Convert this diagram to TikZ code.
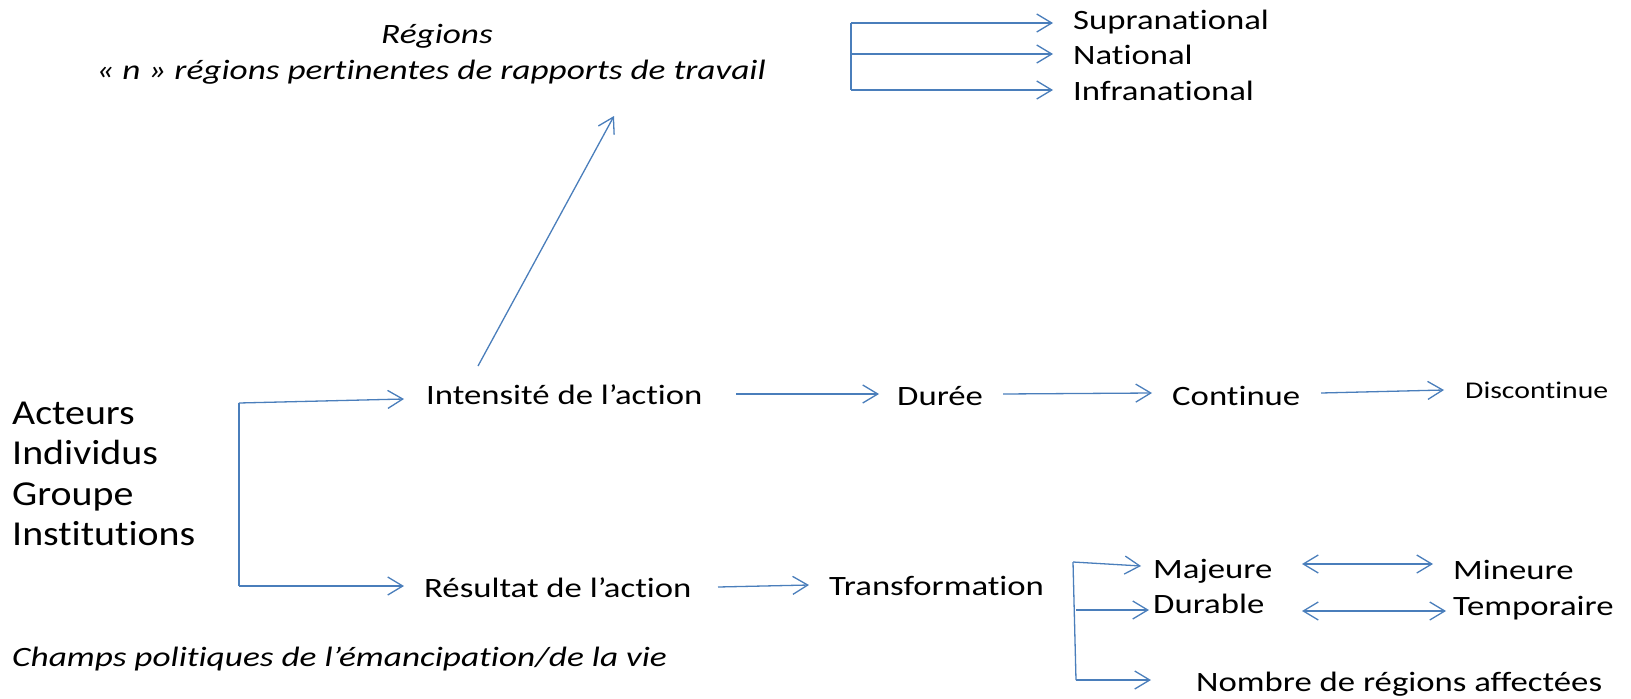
\documentclass[tikz,border=0pt]{standalone}
\usepackage{fontspec}
\setmainfont[FakeStretch=1.24,Ligatures=NoCommon,ItalicFeatures={FakeStretch=1.26}]{Carlito}
\newfontfamily\leftfont[FakeStretch=1.14,Ligatures=NoCommon]{Carlito}
\usetikzlibrary{arrows.meta}
\definecolor{lb}{HTML}{4A7EBB}
\begin{document}
\begin{tikzpicture}[x=1pt,y=-1pt,
  barb/.tip={Straight Barb[length=15pt,width=18pt,line width=1.3pt]},
  lin/.style={draw=lb,line width=1.3pt},
  conn/.style={lin,-barb},
  dbl/.style={lin,barb-barb},
  lbl/.style={inner sep=0pt,anchor=base west,font=\fontsize{28}{32}\selectfont},
  big/.style={lbl,font=\leftfont\fontsize{35}{40}\selectfont},
  small/.style={lbl,font=\fontsize{24}{28}\selectfont},
  ital/.style={inner sep=0pt,anchor=base,font=\fontsize{28}{32}\selectfont\itshape},
]
\useasboundingbox (0,0) rectangle (1631,699);
% top
\node[ital] (reg) at (437,43) {Régions};
\node[ital] (reg2) at (431,79) {« \textit{n} » régions pertinentes de rapports de travail};
\node[lbl] (supra) at (1073,29) {Supranational};
\node[lbl] (nat) at (1073,64) {National};
\node[lbl] (infra) at (1073,100) {Infranational};
% left
\node[big] (act) at (12,424) {Acteurs};
\node[big] (ind) at (12,464) {Individus};
\node[big] (grp) at (12,505) {Groupe};
\node[big] (inst) at (12,545) {Institutions};
% middle row
\node[lbl] (int) at (426,404) {Intensité de l’action};
\node[lbl] (dur) at (897,405) {Durée};
\node[lbl] (cont) at (1172,405) {Continue};
\node[small] (disc) at (1465,398) {Discontinue};
% bottom row
\node[lbl] (res) at (424,597) {Résultat de l’action};
\node[lbl] (trans) at (829,595) {Transformation};
\node[lbl] (maj) at (1153,578) {Majeure};
\node[lbl] (durab) at (1153,613) {Durable};
\node[lbl] (min) at (1453,579) {Mineure};
\node[lbl] (temp) at (1453,615) {Temporaire};
\node[lbl] (nomb) at (1196,691) {Nombre de régions affectées};
\node[inner sep=0pt,anchor=base west,font=\fontsize{28}{32}\selectfont\itshape] (champs) at (12,666) {Champs politiques de l’émancipation/de la vie};
% coordinates
\coordinate (bt) at (851,23);
\coordinate (bm) at (851,54);
\coordinate (bb) at (851,90);
\coordinate (lt) at (239,403);
\coordinate (lb2) at (239,586);
\coordinate (rt) at (1073,562);
\coordinate (rm) at (1076,610);
\coordinate (rb) at (1076,680);
% top bracket
\draw[lin] (bt) -- (bb);
\draw[conn] (bt) -- ([xshift=-20pt]supra.west |- bt);
\draw[conn] (bm) -- ([xshift=-20pt]nat.west |- bm);
\draw[conn] (bb) -- ([xshift=-20pt]infra.west |- bb);
% diagonal
\draw[conn] (478,366) -- (614,116);
% left bracket
\draw[lin] (lt) -- (lb2);
\draw[conn] (lt) -- (404,399);
\draw[conn] (lb2) -- (404,586);
% middle arrows
\draw[conn] (736,394) -- (879,394);
\draw[conn] (1003,394) -- (1152,393);
\draw[conn] (1321,393) -- (1444,390);
% bottom
\draw[conn] (718,587) -- (809,585);
\draw[lin] (rt) -- (rb);
\draw[conn] (rt) -- (1141,566);
\draw[conn] (rm) -- (1149,610);
\draw[conn] (rb) -- (1151,680);
\draw[dbl] (1302,564) -- (1433,564);
\draw[dbl] (1302,611) -- (1446,611);
\end{tikzpicture}
\end{document}
